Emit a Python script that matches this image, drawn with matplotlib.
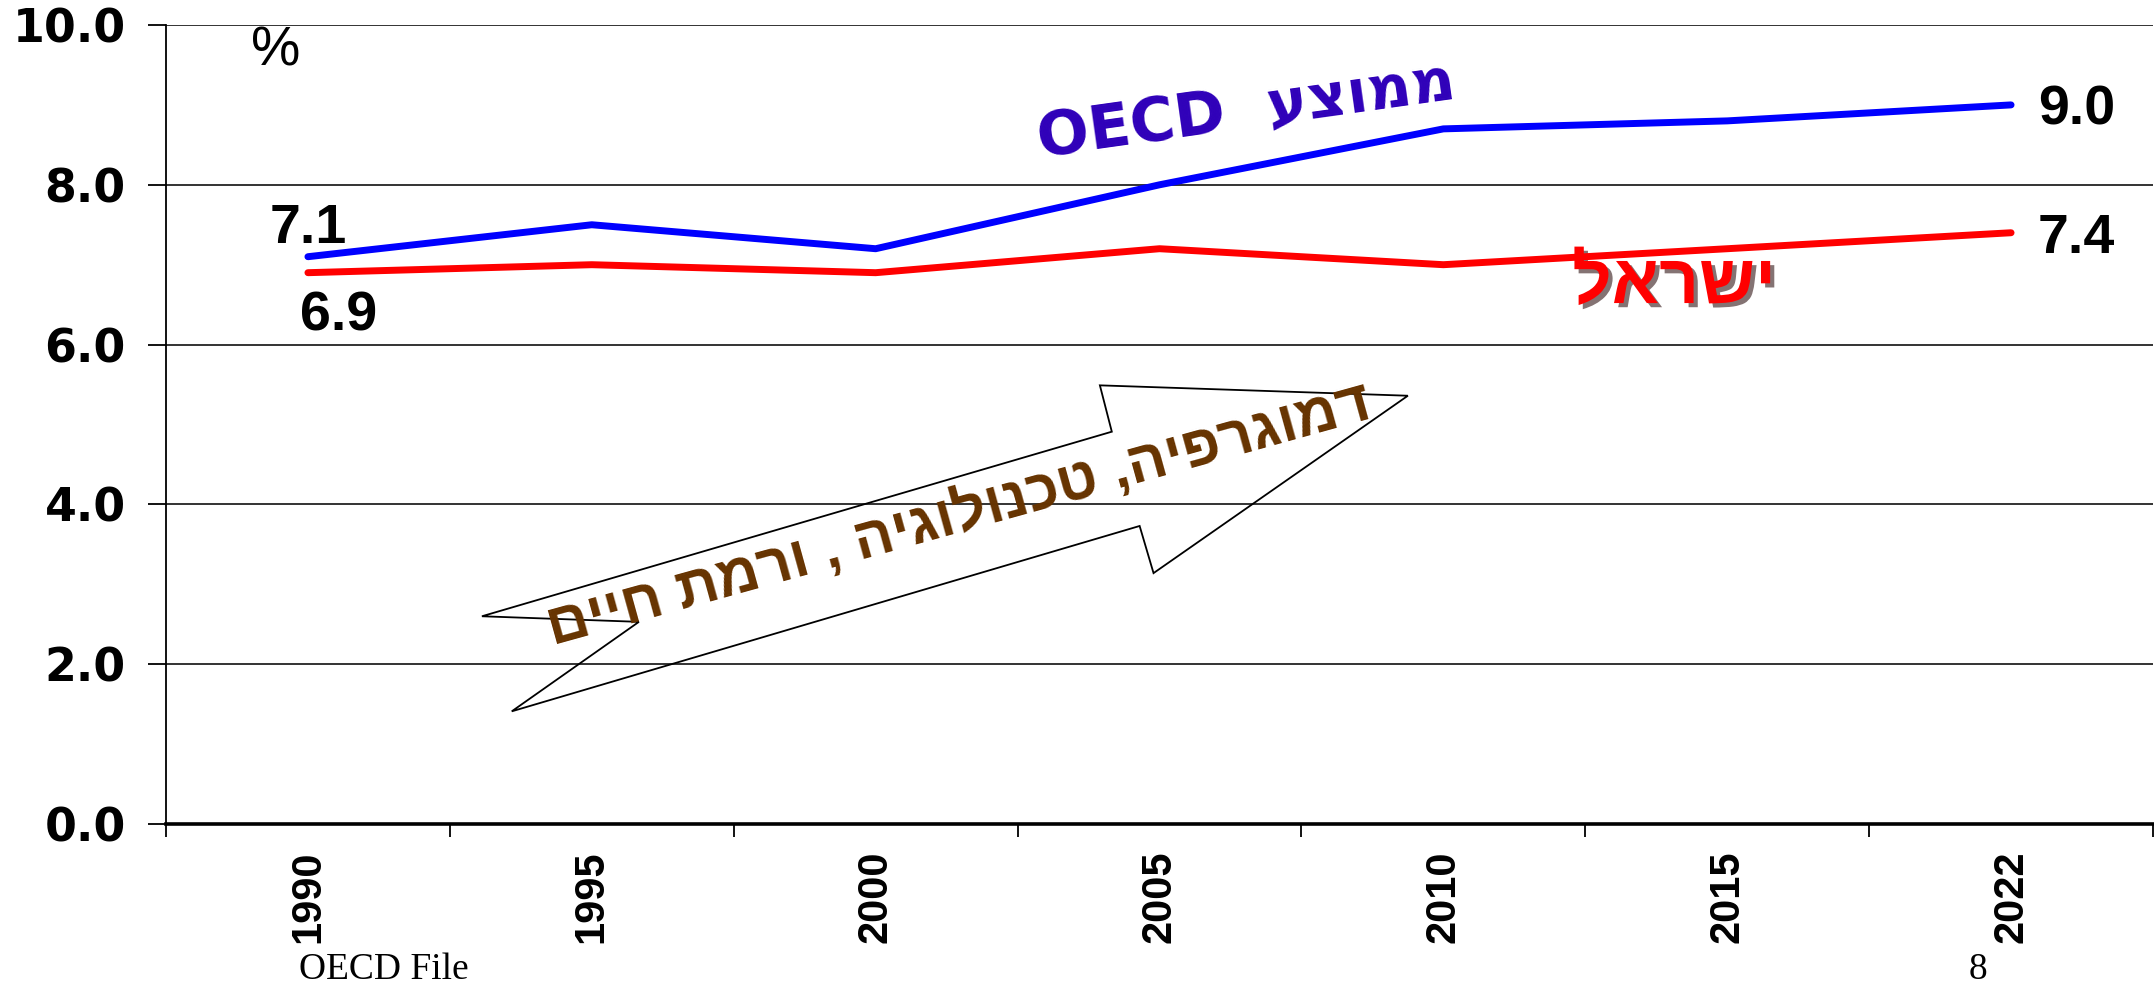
import matplotlib
matplotlib.use('Agg')
import matplotlib.pyplot as plt
import matplotlib.patheffects as pe
from matplotlib.patches import Polygon
import numpy as np

# Data (percent)
years = ['1990', '1995', '2000', '2005', '2010', '2015', '2022']
oecd = [7.1, 7.5, 7.2, 8.0, 8.7, 8.8, 9.0]
israel = [6.9, 7.0, 6.9, 7.2, 7.0, 7.2, 7.4]
yticks = [0, 2, 4, 6, 8, 10]

# Hebrew strings are stored in visual order (matplotlib has no bidi support)
oecd_label = 'OECD  ' + 'ממוצע'[::-1]
israel_label = 'ישראל'[::-1]
arrow_label = 'דמוגרפיה, טכנולוגיה , ורמת חיים'[::-1]

SANS = ['Liberation Sans', 'DejaVu Sans']
WIDE = ['DejaVu Sans']
SERIF = ['Liberation Serif', 'DejaVu Serif']

fig = plt.figure(figsize=(21.54, 9.83), dpi=100)
ax = fig.add_axes([166 / 2154, 159 / 983, 1987 / 2154, 799 / 983])

x = np.arange(len(years))
ax.plot(x, oecd, color='#0000FF', linewidth=5, solid_capstyle='round', zorder=4)
ax.plot(x, israel, color='#FF0000', linewidth=5, solid_capstyle='round', zorder=4)

ax.set_xlim(-0.5, len(years) - 0.5)
ax.set_ylim(0, 10)

# y axis
ax.set_yticks(yticks)
ax.set_yticklabels([f'{v:.1f}' for v in yticks], fontsize=33, fontweight='bold', family=WIDE)
ax.tick_params(axis='y', direction='out', length=13, width=1.3, pad=16, color='black')
ax.yaxis.grid(True, color='#333333', linewidth=1.4)
ax.set_axisbelow(True)

# x axis: labels at category centres, tick marks at boundaries
ax.set_xticks(x)
ax.set_xticklabels(years, rotation=90, fontsize=30, fontweight='bold', family=SANS)
ax.set_xticks(np.arange(len(years) + 1) - 0.5, minor=True)
ax.tick_params(axis='x', which='major', length=0, pad=19)
ax.tick_params(axis='x', which='minor', direction='out', length=9, width=1.3, color='black')

for side in ['top', 'right']:
    ax.spines[side].set_visible(False)
ax.spines['left'].set_linewidth(1.3)
ax.spines['bottom'].set_linewidth(2.6)

# end-point value labels
lab_kw = dict(textcoords='offset pixels', fontsize=40, fontweight='bold', family=SANS, va='baseline')
ax.annotate(f'{oecd[0]:.1f}', xy=(x[0], oecd[0]), xytext=(0, 14), ha='center', **lab_kw)
ax.annotate(f'{israel[0]:.1f}', xy=(x[0], israel[0]), xytext=(31, -58), ha='center', **lab_kw)
ax.annotate(f'{oecd[-1]:.1f}', xy=(x[-1], oecd[-1]), xytext=(27, -20), ha='left', **lab_kw)
ax.annotate(f'{israel[-1]:.1f}', xy=(x[-1], israel[-1]), xytext=(27, -20), ha='left', **lab_kw)

# unit
ax.text(0.055, 0.949, '%', transform=ax.transAxes, ha='center', va='baseline',
        fontsize=40, family=SANS)

# series names
ax.text(0.544, 0.893, oecd_label, transform=ax.transAxes, ha='center', va='center',
        rotation=8, rotation_mode='anchor', fontsize=44, fontweight='bold',
        family=WIDE, color='#2F00B9')
ax.text(0.759, 0.652, israel_label, transform=ax.transAxes, ha='center', va='baseline',
        fontsize=50, fontweight='bold', family=SANS, color='#FF0000',
        path_effects=[pe.SimplePatchShadow(offset=(3, -3), shadow_rgbFace='#200000', alpha=0.55),
                      pe.Normal()])

# hollow arrow (axes fraction)
arrow_pts = [(0.159, 0.260), (0.476, 0.491), (0.470, 0.549), (0.625, 0.536),
             (0.497, 0.314), (0.490, 0.373), (0.174, 0.141), (0.238, 0.253)]
ax.add_patch(Polygon(arrow_pts, closed=True, fill=False, edgecolor='black',
                     linewidth=1.3, transform=ax.transAxes, zorder=3))
ax.text(0.399, 0.386, arrow_label, transform=ax.transAxes, ha='center', va='center',
        rotation=15.5, rotation_mode='anchor', fontsize=42, fontweight='bold',
        family=SANS, color='#663300', zorder=5)

# footer
fig.text(299 / 2154, 0.004, 'OECD File', ha='left', va='baseline', fontsize=27, family=SERIF)
fig.text(1978 / 2154, 0.004, '8', ha='center', va='baseline', fontsize=27, family=SERIF)

fig.savefig('out.png', dpi=100)
